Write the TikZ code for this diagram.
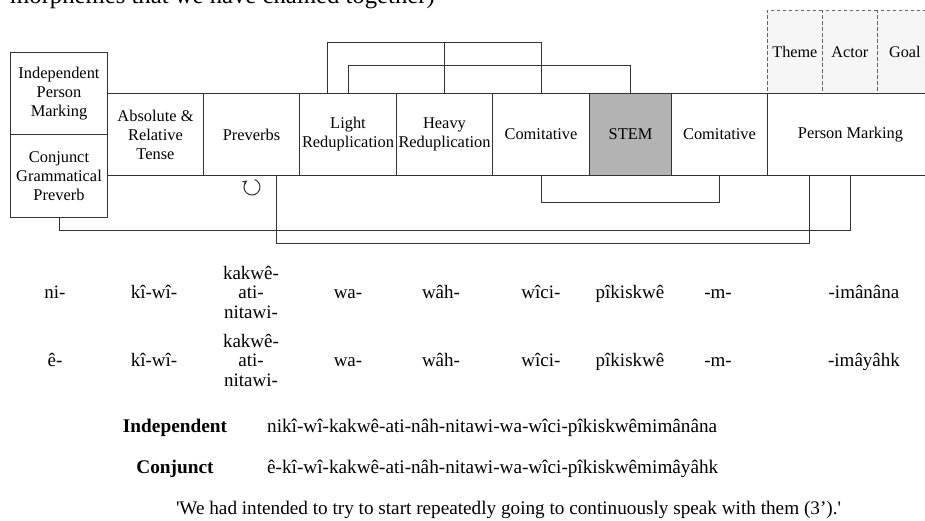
\documentclass[tikz,border=0pt]{standalone}
\usepackage{fontspec}
\setmainfont{Liberation Serif}[Ligatures=TeXOff]
\usetikzlibrary{arrows.meta}
\definecolor{linec}{HTML}{333333}
\definecolor{stemgray}{HTML}{B3B3B3}
\definecolor{slotfill}{HTML}{F5F5F5}
\definecolor{dashc}{HTML}{666666}
\begin{document}
\begin{tikzpicture}[x=1pt,y=-1pt,
  box/.style={draw=linec, line width=1pt, fill=white, inner sep=0pt,
    minimum height=82pt, align=center, anchor=north west,
    font=\fontsize{16.4}{19}\selectfont},
  slot/.style={draw=dashc, dash pattern=on 3.5pt off 2.5pt, line width=0.8pt,
    fill=slotfill, inner sep=0pt, minimum width=55pt, minimum height=83pt,
    anchor=north west, font=\fontsize{16.2}{19}\selectfont},
  conn/.style={draw=linec, line width=1pt},
  morph/.style={font=\fontsize{19}{19.5}\selectfont, align=center, inner sep=0pt},
  lab/.style={font=\fontsize{19.3}{22}\selectfont\bfseries, inner sep=0pt},
  form/.style={font=\fontsize{19.2}{22}\selectfont, inner sep=0pt, anchor=west},
  gloss/.style={font=\fontsize{19.2}{22}\selectfont, inner sep=0pt}]
\clip (0,0) rectangle (925,520);
\fill[white] (0,0) rectangle (925,520);
% cut-off text line at top
\node[anchor=base west, inner sep=0pt, font=\fontsize{24.7}{28}\selectfont] (topline) at (10,3) {morphemes that we have chained together)};
% slots above person marking
\node[slot] (theme) at (767,10) {Theme};
\node[slot] (actor) at (822,10) {Actor};
\node[slot] (goal) at (877,10) {Goal};
% left stacked boxes
\node[box, minimum width=97pt] (ipm) at (10,52) {Independent\\Person\\Marking};
\node[box, minimum width=97pt, minimum height=83pt] (cgp) at (10,134) {Conjunct\\Grammatical\\Preverb};
% main row
\node[box, minimum width=96pt] (art) at (107,93) {Absolute \&\\Relative\\Tense};
\node[box, minimum width=96pt] (prev) at (203,93) {Preverbs};
\node[box, minimum width=97pt] (lred) at (299,93) {Light\\Reduplication};
\node[box, minimum width=96pt] (hred) at (396,93) {Heavy\\Reduplication};
\node[box, minimum width=97pt] (com1) at (492,93) {Comitative};
\node[box, minimum width=82pt, fill=stemgray] (stem) at (589,93) {STEM};
\node[box, minimum width=96pt] (com2) at (671,93) {Comitative};
\node[box, minimum width=166pt] (pm) at (767,93) {Person Marking};
% helper levels
\coordinate (ya) at (0,42);
\coordinate (yb) at (0,65);
\coordinate (yc) at (0,202);
\coordinate (yd) at (0,230);
\coordinate (ye) at (0,243);
\coordinate (lrA) at ([xshift=28pt]lred.north west);
\coordinate (lrB) at ([xshift=49pt]lred.north west);
\coordinate (pvA) at ([xshift=73pt]prev.south west);
\coordinate (pmA) at ([xshift=42pt]pm.south west);
% top connectors
\draw[conn] (lrA) |- (ya -| com1.north) -- (com1.north);
\draw[conn] (hred.north) -- (hred.north |- ya);
\draw[conn] (lrB) |- (yb -| stem.north) -- (stem.north);
% bottom connectors
\draw[conn] (com1.south) |- (yc -| com2.south) -- (com2.south);
\draw[conn] (cgp.south) |- (yd -| pm.south) -- (pm.south);
\draw[conn] (pvA) |- (ye -| pmA) -- (pmA);
% repeat arrow under preverbs
\draw[linec, line width=1pt, -{Stealth[length=5pt,width=5pt]}] (254.7,179.5) arc[start angle=-70, end angle=235, radius=8];
% morpheme rows (single-line forms on the baseline of the middle line)
\foreach \nm/\x/\t in {a/55/ni-, b/154/kî-wî-, d/348/wa-, e/441/wâh-, f/541/wîci-, g/630/pîkiskwê, h/718/-m-, i/864/-imânâna}
  \node[morph, anchor=base] (r1\nm) at (\x,298.5) {\t};
\node[morph] (r1c) at (251,292) {kakwê-\\ati-\\nitawi-};
\foreach \nm/\x/\t in {a/55/ê-, b/154/kî-wî-, d/348/wa-, e/441/wâh-, f/541/wîci-, g/630/pîkiskwê, h/718/-m-, i/864/-imâyâhk}
  \node[morph, anchor=base] (r2\nm) at (\x,366.5) {\t};
\node[morph] (r2c) at (251,360) {kakwê-\\ati-\\nitawi-};
% full forms
\node[lab] (indl) at (175,428) {Independent};
\node[form] (indw) at (267,428) {nikî-wî-kakwê-ati-nâh-nitawi-wa-wîci-pîkiskwêmimânâna};
\node[lab] (conl) at (175,469) {Conjunct};
\node[form] (conw) at (267,469) {ê-kî-wî-kakwê-ati-nâh-nitawi-wa-wîci-pîkiskwêmimâyâhk};
\node[gloss] (tr) at (508.5,510) {'We had intended to try to start repeatedly going to continuously speak with them (3’).'};
\end{tikzpicture}
\end{document}
